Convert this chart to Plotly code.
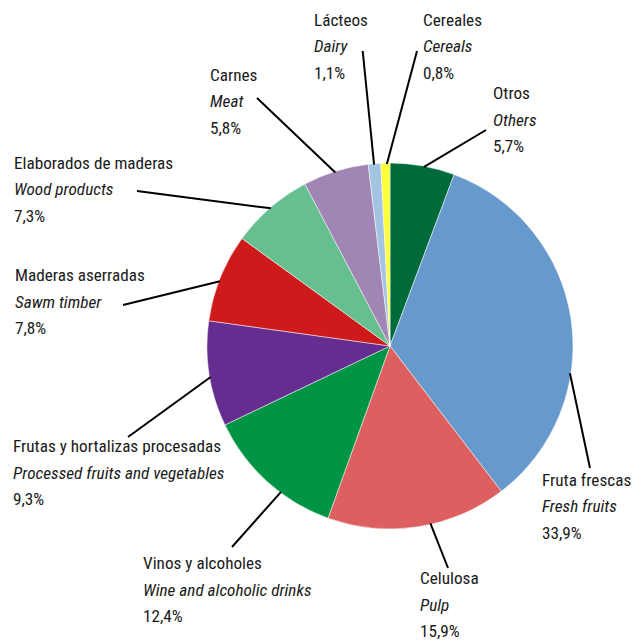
import math
import plotly.graph_objects as go

W, H = 633, 642

# ---- data ----
labels_es = ["Otros", "Fruta frescas", "Celulosa", "Vinos y alcoholes",
             "Frutas y hortalizas procesadas", "Maderas aserradas",
             "Elaborados de maderas", "Carnes", "Lácteos", "Cereales"]
labels_en = ["Others", "Fresh fruits", "Pulp", "Wine and alcoholic drinks",
             "Processed fruits and vegetables", "Sawm timber",
             "Wood products", "Meat", "Dairy", "Cereals"]
values = [5.7, 33.9, 15.9, 12.4, 9.3, 7.8, 7.3, 5.8, 1.1, 0.8]

# ---- style / layout ----
colors = ["#006b3a", "#6699cc", "#dd5f5f", "#009444", "#662d91",
          "#cf1a1c", "#66bf8f", "#a185b5", "#a3c4e2", "#ffff3c"]
label_pos = [(491, 93), (540, 480), (418, 578), (141, 563), (11, 446),
             (13, 275), (12, 163), (208, 75), (312, 20), (421, 20)]
leader_out = [(486, 130), (590, 468), (448, 568), (232, 547), (128, 437),
              (123, 305), (137, 191), (257, 98), (362.7, 51), (417, 51)]
anchor_frac = [0.52, 0.64, 0.43, 0.38, 0.47, 0.46, 0.5, 0.49, 0.46, 0.66]

cx, cy, R = 390, 346, 183
LINE_H = 26.5
FONT = "Roboto Condensed, DejaVu Sans Condensed, sans-serif"
FSIZE = 17.2
TXT = "#1a1a1a"

fig = go.Figure(go.Pie(
    labels=labels_es, values=values, sort=False, direction="clockwise",
    rotation=0, textinfo="none", hoverinfo="label+percent",
    marker=dict(colors=colors, line=dict(color="white", width=0.5)),
    domain=dict(x=[(cx - R) / W, (cx + R) / W],
                y=[(H - (cy + R)) / H, (H - (cy - R)) / H]),
    showlegend=False,
))

total = sum(values)
shapes = []
annotations = []
cum = 0.0
for i, v in enumerate(values):
    a = math.radians((cum + anchor_frac[i] * v) / total * 360.0)
    cum += v
    px = cx + (R - 1) * math.sin(a)
    py = cy - (R - 1) * math.cos(a)
    ox, oy = leader_out[i]
    shapes.append(dict(type="line", xref="paper", yref="paper",
                       x0=px / W, y0=1 - py / H, x1=ox / W, y1=1 - oy / H,
                       line=dict(color="black", width=2)))
    pct = f"{v:.1f}".replace(".", ",") + "%"
    lx, ly = label_pos[i]
    for k, t in enumerate([labels_es[i], f"<i>{labels_en[i]}</i>", pct]):
        annotations.append(dict(
            x=lx / W, y=1 - (ly + k * LINE_H) / H, xref="paper", yref="paper",
            text=t, showarrow=False, xanchor="left", yanchor="middle",
            align="left", font=dict(family=FONT, size=FSIZE, color=TXT)))

fig.update_layout(
    width=W, height=H, margin=dict(l=0, r=0, t=0, b=0),
    paper_bgcolor="white", plot_bgcolor="white",
    shapes=shapes, annotations=annotations,
)

fig.write_html("out.html", config={"displayModeBar": False},
               post_script="document.body.style.margin='0';"
                           "document.body.style.overflow='hidden';")
